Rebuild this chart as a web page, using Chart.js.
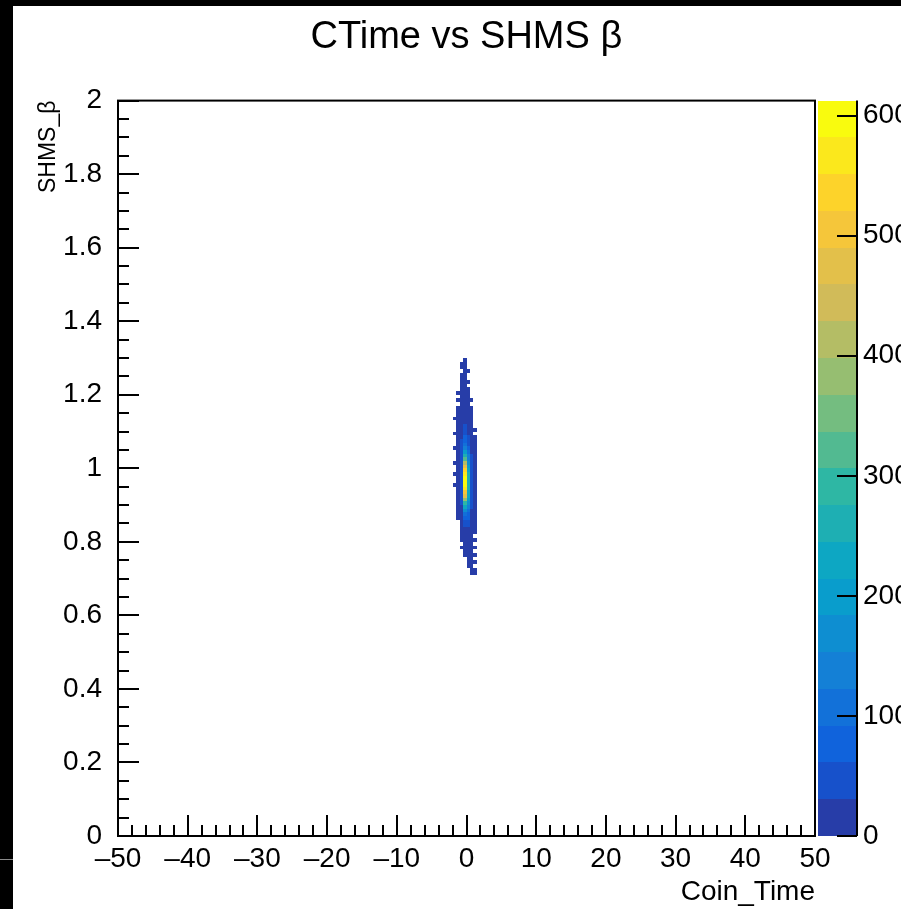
<!DOCTYPE html>
<html><head><meta charset="utf-8">
<script src="https://cdn.jsdelivr.net/npm/chart.js@4"></script>
<style>
html,body{margin:0;padding:0;background:#000;width:901px;height:909px;overflow:hidden}
#pad{position:absolute;left:13px;top:6px;width:888px;height:903px;background:#fff}
#mark{position:absolute;left:0;top:859px;width:13px;height:1px;background:#8a8a8a}
#wrap{position:absolute;left:0;top:0;width:901px;height:909px}
</style></head><body>
<div id="pad"></div><div id="mark"></div>
<div id="wrap"><canvas id="c" width="901" height="909"></canvas></div>
<script>
// ---- data ----
const xBinLeft = [-2.0, -1.5, -1.0, -0.5, 0.0, 0.5, 1.0];
const xBinWidth = 0.5;
const yBinLow = [1.29,1.28,1.27,1.26,1.25,1.24,1.23,1.22,1.21,1.20,
                 1.19,1.18,1.17,1.16,1.15,1.14,1.13,1.12,1.11,1.10,
                 1.09,1.08,1.07,1.06,1.05,1.04,1.03,1.02,1.01,1.00,
                 0.99,0.98,0.97,0.96,0.95,0.94,0.93,0.92,0.91,0.90,
                 0.89,0.88,0.87,0.86,0.85,0.84,0.83,0.82,0.81,0.80,
                 0.79,0.78,0.77,0.76,0.75,0.74,0.73,0.72,0.71,0.70];
const yBinWidth = 0.01;
const binCounts = [
 [0,0,0,2,0,0,0],
 [0,0,1,3,0,0,0],
 [0,0,2,1,0,0,0],
 [0,0,0,3,1,0,0],
 [0,0,1,2,0,0,0],
 [0,0,3,4,0,0,0],
 [0,0,2,1,2,0,0],
 [0,0,1,5,0,0,0],
 [0,0,4,6,1,0,0],
 [0,1,3,6,3,0,0],
 [0,0,5,8,2,0,0],
 [0,1,4,9,3,1,0],
 [0,0,7,11,5,0,0],
 [0,2,6,14,5,2,0],
 [0,2,9,17,7,1,0],
 [0,1,11,21,9,2,0],
 [1,3,13,25,12,3,0],
 [0,2,15,29,15,4,0],
 [0,3,18,33,19,6,0],
 [0,2,22,40,24,8,1],
 [1,4,26,50,30,10,0],
 [0,3,30,62,38,13,1],
 [0,5,34,80,48,16,2],
 [0,4,38,105,60,20,1],
 [1,6,42,140,78,24,3],
 [0,5,46,190,100,28,2],
 [0,7,50,250,125,32,3],
 [0,6,52,320,150,36,4],
 [1,8,54,400,175,40,5],
 [0,7,55,470,200,44,4],
 [0,8,56,530,225,48,6],
 [1,7,56,575,245,52,5],
 [0,8,55,600,260,55,6],
 [0,7,54,612,270,57,5],
 [1,7,52,600,268,56,6],
 [0,6,49,570,258,54,5],
 [0,6,45,520,240,51,6],
 [0,5,41,460,215,47,4],
 [0,4,36,380,185,43,4],
 [0,3,31,300,155,38,5],
 [0,3,26,220,125,34,3],
 [0,2,21,160,100,30,3],
 [0,1,17,110,80,26,2],
 [0,1,13,75,62,22,2],
 [0,0,10,50,47,18,1],
 [0,0,7,34,35,14,2],
 [0,0,5,22,26,11,1],
 [0,0,3,15,19,8,1],
 [0,0,2,10,14,6,0],
 [0,0,1,7,10,5,1],
 [0,0,0,4,7,4,0],
 [0,0,1,3,5,3,1],
 [0,0,0,1,4,3,0],
 [0,0,0,1,3,2,1],
 [0,0,0,0,2,3,0],
 [0,0,0,0,1,2,1],
 [0,0,0,0,1,1,0],
 [0,0,0,0,0,2,1],
 [0,0,0,0,0,1,1],
 [0,0,0,0,0,0,0]
];
const xTicks = [-50,-40,-30,-20,-10,0,10,20,30,40,50];
const yTicks = [0,0.2,0.4,0.6,0.8,1,1.2,1.4,1.6,1.8,2];
const zTicks = [0,100,200,300,400,500,600];
const zMax = 612.5;
const nBands = 20;

// ---- kBird palette ----
const pStops = [0,0.125,0.25,0.375,0.5,0.625,0.75,0.875,1];
const pR = [0.2082,0.0592,0.0780,0.0232,0.1802,0.5301,0.8186,0.9956,0.9764];
const pG = [0.1664,0.3599,0.5041,0.6419,0.7178,0.7492,0.7328,0.7862,0.9832];
const pB = [0.5293,0.8684,0.8385,0.7914,0.6425,0.4662,0.3499,0.1968,0.0539];
function palette(t){
  t = Math.max(0, Math.min(1, t));
  let i = 0; while (i < pStops.length-2 && t > pStops[i+1]) i++;
  const f = (t - pStops[i])/(pStops[i+1]-pStops[i]);
  const c = a => Math.round(255*(a[i] + (a[i+1]-a[i])*f));
  return `rgb(${c(pR)},${c(pG)},${c(pB)})`;
}
function bandColor(b){
  const idx = Math.min(254, Math.floor((b+0.99)*255/nBands));
  return palette(idx/254);
}

const cells = [];
yBinLow.forEach((yl, r) => {
  xBinLeft.forEach((xl, c) => {
    const v = binCounts[r][c];
    if (v > 0) cells.push({x: xl + xBinWidth/2, y: yl + yBinWidth/2, xl, yl, v});
  });
});

const FONT = "'Liberation Sans', Arial, Helvetica, sans-serif";
Chart.defaults.color = '#000';
Chart.defaults.font.family = FONT;

const histPlugin = {
  id: 'hist2d',
  beforeDatasetsDraw(chart){
    const {ctx, scales:{x, y}} = chart;
    ctx.save();
    chart.data.datasets[0].data.forEach(c => {
      const band = Math.min(nBands-1, Math.floor(0.01 + c.v*nBands/zMax));
      ctx.fillStyle = bandColor(band);
      const x1 = Math.round(x.getPixelForValue(c.xl));
      const x2 = Math.round(x.getPixelForValue(c.xl + xBinWidth));
      const y1 = Math.round(y.getPixelForValue(c.yl + yBinWidth));
      const y2 = Math.round(y.getPixelForValue(c.yl));
      ctx.fillRect(x1, y1, x2-x1, y2-y1);
    });
    ctx.restore();
  },
  afterDraw(chart){
    const {ctx, chartArea:a, scales:{x, y, z}} = chart;
    ctx.save();
    ctx.strokeStyle = '#000';
    ctx.lineWidth = 2;
    ctx.strokeRect(a.left, a.top, a.right-a.left, a.bottom-a.top);
    const MAJ = 21, MIN = 11;
    ctx.beginPath();
    for (let k = 0; k <= 50; k++){
      const v = -50 + 2*k;
      const px = Math.round(x.getPixelForValue(v));
      const len = (v % 10 === 0) ? MAJ : MIN;
      ctx.moveTo(px, a.bottom); ctx.lineTo(px, a.bottom - len);
    }
    for (let k = 0; k <= 40; k++){
      const v = k*0.05;
      const py = Math.round(y.getPixelForValue(v));
      const len = (k % 4 === 0) ? MAJ : MIN;
      ctx.moveTo(a.left, py); ctx.lineTo(a.left + len, py);
    }
    ctx.stroke();
    const cbL = a.right + 3, cbR = a.right + 42;
    for (let b = 0; b < nBands; b++){
      const yTop = Math.round(z.getPixelForValue((b+1)*zMax/nBands));
      const yBot = Math.round(z.getPixelForValue(b*zMax/nBands));
      ctx.fillStyle = bandColor(b);
      ctx.fillRect(cbL, yTop, cbR-cbL, yBot-yTop);
    }
    ctx.beginPath();
    ctx.moveTo(cbR, a.top); ctx.lineTo(cbR, a.bottom);
    zTicks.forEach(v => {
      const py = Math.round(z.getPixelForValue(v));
      ctx.moveTo(cbR - 20, py); ctx.lineTo(cbR, py);
    });
    ctx.stroke();
    ctx.restore();
  }
};

new Chart(document.getElementById('c'), {
  type: 'scatter',
  data: { datasets: [{ data: cells, pointRadius: 0, pointHoverRadius: 0 }] },
  options: {
    responsive: false,
    animation: false,
    devicePixelRatio: 1,
    layout: { padding: 0 },
    plugins: {
      legend: { display: false },
      tooltip: { enabled: false },
      title: {
        display: true,
        text: '\u00a0\u00a0\u00a0CTime vs SHMS \u03b2',
        color: '#000',
        font: { family: FONT, size: 38, weight: 'normal' },
        padding: { top: 15, bottom: 40 }
      }
    },
    scales: {
      x: {
        type: 'linear', position: 'bottom', min: -50, max: 50,
        afterBuildTicks: s => { s.ticks = xTicks.map(v => ({value: v})); },
        afterFit: s => { s.height = 73; },
        grid: { display: false },
        border: { display: false },
        ticks: { font: { size: 28 }, padding: -2, maxRotation: 0, autoSkip: false,
                 callback: v => v < 0 ? '\u2013' + Math.abs(v) : String(v) },
        title: { display: true, text: 'Coin_Time', align: 'end',
                 font: { size: 28 }, padding: { top: 12, bottom: 0 } }
      },
      y: {
        type: 'linear', position: 'left', min: 0, max: 2,
        afterBuildTicks: s => { s.ticks = yTicks.map(v => ({value: v})); },
        afterFit: s => { s.width = 118; },
        grid: { display: false },
        border: { display: false },
        ticks: { font: { size: 28 }, padding: 8, autoSkip: false,
                 callback: v => String(v) },
        title: { display: true, text: 'SHMS_\u03b2', align: 'end',
                 font: { size: 23 }, padding: { top: 35, bottom: 0 } }
      },
      z: {
        type: 'linear', position: 'right', min: 0, max: zMax,
        afterBuildTicks: s => { s.ticks = zTicks.map(v => ({value: v})); },
        afterFit: s => { s.width = 86; },
        grid: { display: false },
        border: { display: false },
        ticks: { font: { size: 28 }, padding: 40, autoSkip: false,
                 callback: v => String(v) }
      }
    }
  },
  plugins: [histPlugin]
});
</script>
</body></html>
